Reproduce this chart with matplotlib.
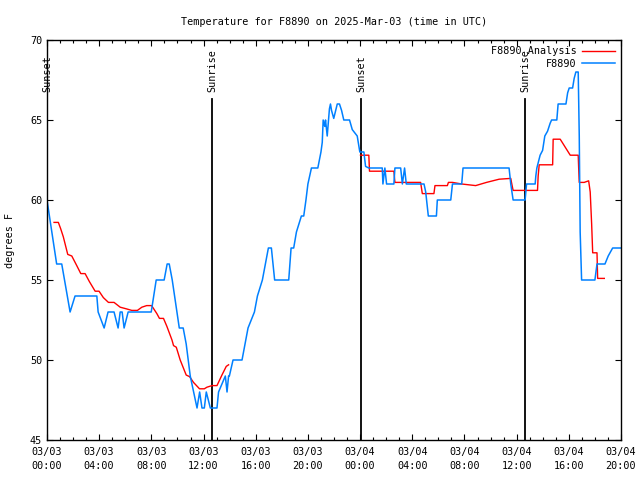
import numpy as np
import matplotlib
matplotlib.use("Agg")
import matplotlib.pyplot as plt
from matplotlib.ticker import MultipleLocator, FuncFormatter

# hours since 2025-03-03 00:00 UTC
obs_hours = [0.0, 0.74, 1.13, 1.77, 2.15, 3.82, 3.92, 4.38, 4.68, 5.14, 5.45, 5.61, 5.76,
             5.91, 6.22, 7.99, 8.37, 8.98, 9.21, 9.37, 9.60, 10.14, 10.44, 10.67, 10.98,
             11.50, 11.70, 11.88, 12.06, 12.21, 12.52, 13.03, 13.15, 13.67, 13.80, 13.92,
             13.98, 14.26, 14.95, 15.41, 15.90, 16.13, 16.51, 16.74, 16.97, 17.20, 17.45,
             18.53, 18.71, 18.91, 19.12, 19.50, 19.68, 19.85, 20.00, 20.27, 20.76, 21.00,
             21.10, 21.17, 21.29, 21.35, 21.48, 21.65, 21.73, 21.81, 21.98, 22.25, 22.42,
             22.58, 22.75, 23.19, 23.40, 23.78, 23.98, 24.29, 24.42, 24.67, 25.70, 25.75,
             25.90, 26.03, 26.59, 26.67, 27.11, 27.24, 27.41, 27.54, 28.90, 29.03, 29.23,
             29.85, 29.92, 30.95, 31.08, 31.79, 31.89, 35.42, 35.55, 35.73, 36.65, 36.76,
             37.42, 37.47, 37.55, 37.80, 37.99, 38.16, 38.37, 38.57, 38.68, 39.08, 39.18,
             39.78, 39.91, 40.03, 40.29, 40.41, 40.54, 40.72, 40.80, 40.87, 40.98, 42.00,
             42.16, 42.77, 43.02, 43.36, 44.00]
obs_temps = [60, 56, 56, 53, 54, 54, 53, 52, 53, 53, 52, 53, 53,
             52, 53, 53, 55, 55, 56, 56, 55, 52, 52, 51, 49,
             47, 48, 47, 47, 48, 47, 47, 48, 49, 48, 49,
             49, 50, 50, 52, 53, 54, 55, 56, 57, 57, 55,
             55, 57, 57, 58, 59, 59, 60, 61, 62, 62, 63,
             63.6, 65, 64.6, 65, 64, 65.7, 66, 65.6, 65.1, 66, 66,
             65.6, 65, 65, 64.4, 64, 63, 63, 62.1, 62, 62, 61,
             62, 61, 61, 62, 62, 61, 62, 61, 61, 60.5, 59,
             59, 60, 60, 61, 61, 62, 62, 61, 60, 60, 61,
             61, 61.5, 62, 62.8, 63.1, 64, 64.3, 64.8, 65, 65, 66,
             66, 66.7, 67, 67, 67.6, 68, 68, 64, 58, 55, 55,
             56, 56, 56.5, 57, 57]

ana_hours = [0.54, 0.87, 1.05, 1.25, 1.59, 1.90, 2.28, 2.59, 2.92, 3.25, 3.69, 3.99,
             4.32, 4.71, 5.14, 5.61, 6.07, 6.50, 6.93, 7.27, 7.64, 8.02, 8.42, 8.62,
             8.93, 9.19, 9.58, 9.70, 9.91, 10.21, 10.67, 10.93, 11.23, 11.69, 12.06,
             12.26, 12.65, 13.03, 13.41, 13.74, 13.92, np.nan,
             24.03, 24.67, 24.72, 26.59, 26.67, 28.64, 28.77, 29.66, 29.74, 30.69,
             30.77, 31.08, 31.79, 32.86, 33.69, 34.66, 35.55, 35.63, 35.73, 37.60,
             37.65, 37.73, 38.76, 38.80, 39.34, 40.11, 40.72, 40.75, 40.80, 41.18,
             41.52, 41.64, 41.75, 41.83, 42.16, 42.21, 42.72]
ana_temps = [58.6, 58.6, 58.2, 57.7, 56.6, 56.5, 55.9, 55.4, 55.4, 54.9, 54.3, 54.3,
             53.9, 53.6, 53.6, 53.3, 53.2, 53.1, 53.1, 53.3, 53.4, 53.4, 52.9, 52.6,
             52.6, 52.1, 51.25, 50.9, 50.8, 50.0, 49.06, 48.96, 48.6, 48.2, 48.2,
             48.3, 48.4, 48.4, 49.06, 49.6, 49.7, np.nan,
             62.8, 62.8, 61.8, 61.8, 61.1, 61.1, 60.4, 60.4, 60.9, 60.9,
             61.1, 61.1, 61.0, 60.9, 61.1, 61.3, 61.35, 61.0, 60.6, 60.6,
             61.5, 62.2, 62.2, 63.8, 63.8, 62.8, 62.8, 62.1, 61.1, 61.1,
             61.2, 60.5, 58.5, 56.7, 56.7, 55.1, 55.1]

sun_events = ["Sunset", "Sunrise", "Sunset", "Sunrise"]
sun_hours = [0.0, 12.67, 24.07, 36.67]

plt.rcParams['font.family'] = ['DejaVu Sans Mono']
fs = 7.3

fig = plt.figure(figsize=(6.4, 4.8), dpi=100)
ax = fig.add_axes([47/640, 40/480, 574/640, 400/480])

for name, h in zip(sun_events, sun_hours):
    ax.axvline(h, ymin=0, ymax=0.852, color='black', lw=1.3)
    ax.text(h, 0.87, name, transform=ax.get_xaxis_transform(), rotation=90,
            ha='center', va='bottom', fontsize=fs)

ax.plot(ana_hours, ana_temps, color='#ff0000', lw=1.0, label='F8890 Analysis')
ax.plot(obs_hours, obs_temps, color='#0080ff', lw=1.1, label='F8890')

ax.set_xlim(0, 44)
ax.set_ylim(45, 70)
ax.xaxis.set_major_locator(MultipleLocator(4))
ax.xaxis.set_minor_locator(MultipleLocator(1))
ax.yaxis.set_major_locator(MultipleLocator(5))
ax.xaxis.set_major_formatter(FuncFormatter(
    lambda h, pos: "03/%02d\n%02d:00" % (3 + int(h) // 24, int(h) % 24)))
ax.tick_params(which='both', direction='in', top=True, right=True, labelsize=fs, width=0.8)
ax.tick_params(which='major', length=4)
ax.tick_params(which='minor', length=2)
ax.tick_params(axis='x', pad=5)
for lbl in ax.get_xticklabels():
    lbl.set_linespacing(1.45)
for s in ax.spines.values():
    s.set_linewidth(1.0)

ax.set_ylabel('degrees F', fontsize=fs, labelpad=11)
ax.set_title('Temperature for F8890 on 2025-Mar-03 (time in UTC)', fontsize=fs, pad=11)
leg = ax.legend(loc='upper right', frameon=False, markerfirst=False, fontsize=fs,
                handlelength=3.2, handletextpad=0.6, borderaxespad=0.2, labelspacing=0.25)

fig.savefig('out.png', dpi=100)
